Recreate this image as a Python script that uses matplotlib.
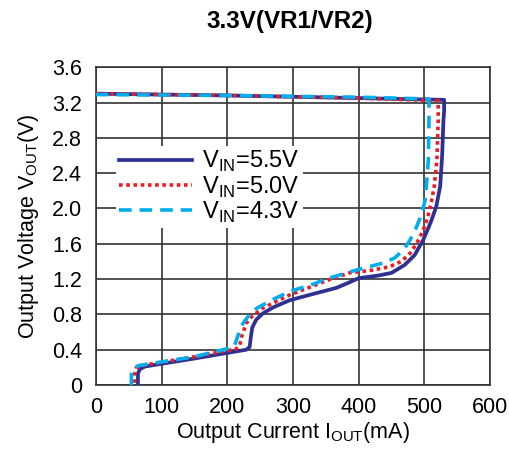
import matplotlib.pyplot as plt

plt.rcParams['font.family'] = ['Liberation Sans', 'DejaVu Sans']

# VIN = 5.5 V
i55 = [0, 200, 400, 530, 530, 529, 527, 524, 518, 510, 498, 485, 470, 450, 430, 400,
       385, 366, 330, 295, 270, 254, 244, 238, 236, 234, 229, 150, 75, 67, 64, 64]
v55 = [3.30, 3.28, 3.25, 3.23, 3.10, 3.00, 2.60, 2.25, 2.02, 1.85, 1.64, 1.47, 1.36, 1.27, 1.24, 1.21,
       1.16, 1.10, 1.03, 0.96, 0.88, 0.81, 0.74, 0.65, 0.55, 0.43, 0.40, 0.30, 0.21, 0.18, 0.13, 0.0]

# VIN = 5.0 V
i50 = [0, 200, 400, 521, 521, 519, 515, 511, 505, 498, 488, 478, 465, 447, 420, 386,
       350, 330, 295, 270, 254, 238, 229, 222, 219, 214, 150, 70, 61, 59, 59]
v50 = [3.30, 3.28, 3.25, 3.22, 3.00, 2.55, 2.25, 2.09, 1.90, 1.75, 1.60, 1.49, 1.40, 1.34, 1.30, 1.27,
       1.18, 1.12, 1.02, 0.93, 0.87, 0.78, 0.70, 0.55, 0.45, 0.41, 0.32, 0.22, 0.19, 0.13, 0.0]

# VIN = 4.3 V
i43 = [0, 200, 400, 507, 507, 506, 503, 501, 495, 488, 478, 468, 455, 437, 410, 386,
       350, 330, 295, 270, 245, 232, 224, 218, 214, 210, 150, 65, 56, 54, 54]
v43 = [3.29, 3.28, 3.26, 3.24, 3.00, 2.55, 2.25, 2.09, 1.92, 1.79, 1.64, 1.53, 1.44, 1.38, 1.33, 1.28,
       1.20, 1.14, 1.06, 0.97, 0.87, 0.78, 0.70, 0.60, 0.51, 0.43, 0.32, 0.22, 0.19, 0.13, 0.0]

xticks = [0, 100, 200, 300, 400, 500, 600]
yticks = [0, 0.4, 0.8, 1.2, 1.6, 2.0, 2.4, 2.8, 3.2, 3.6]
ylabels = ['0', '0.4', '0.8', '1.2', '1.6', '2.0', '2.4', '2.8', '3.2', '3.6']

fig = plt.figure(figsize=(5.1, 4.54), dpi=100)
ax = fig.add_axes([0.188, 0.152, 0.773, 0.700])

ax.plot(i55, v55, color='#2e3192', lw=2.7, label='V$_\\mathregular{IN}$=5.5V', zorder=3)
ax.plot(i50, v50, color='#ed1c24', lw=2.6, ls=(0, (1, 1)), label='V$_\\mathregular{IN}$=5.0V', zorder=4)
ax.plot(i43, v43, color='#00aeef', lw=2.6, ls=(0, (3.5, 2.2)), label='V$_\\mathregular{IN}$=4.3V', zorder=5)

ax.set_xlim(0, 600)
ax.set_ylim(0, 3.6)
ax.set_xticks(xticks)
ax.set_yticks(yticks)
ax.set_yticklabels(ylabels)
ax.tick_params(axis='x', length=0, labelsize=15.5, pad=9)
ax.tick_params(axis='y', length=0, labelsize=15.5, pad=10)
ax.grid(True, color='#333333', lw=1.2)
for s in ax.spines.values():
    s.set_color('#333333')
    s.set_linewidth(1.2)

ax.set_xlabel('Output Current I$_\\mathregular{OUT}$(mA)', fontsize=15.5, labelpad=1)
ax.set_ylabel('Output Voltage V$_\\mathregular{OUT}$(V)', fontsize=15.5, labelpad=8)
fig.text(0.569, 0.952, '3.3V(VR1/VR2)', ha='center', va='center', fontsize=17.5, fontweight='bold')

leg = ax.legend(loc='upper left', bbox_to_anchor=(0.02, 0.79), fontsize=17, frameon=True,
                handlelength=3.1, handletextpad=0.4, labelspacing=0.0, borderpad=0.15)
leg.get_frame().set_edgecolor('none')
leg.get_frame().set_facecolor('white')
leg.get_frame().set_alpha(1)
leg.set_zorder(6)

plt.savefig('out.png')
